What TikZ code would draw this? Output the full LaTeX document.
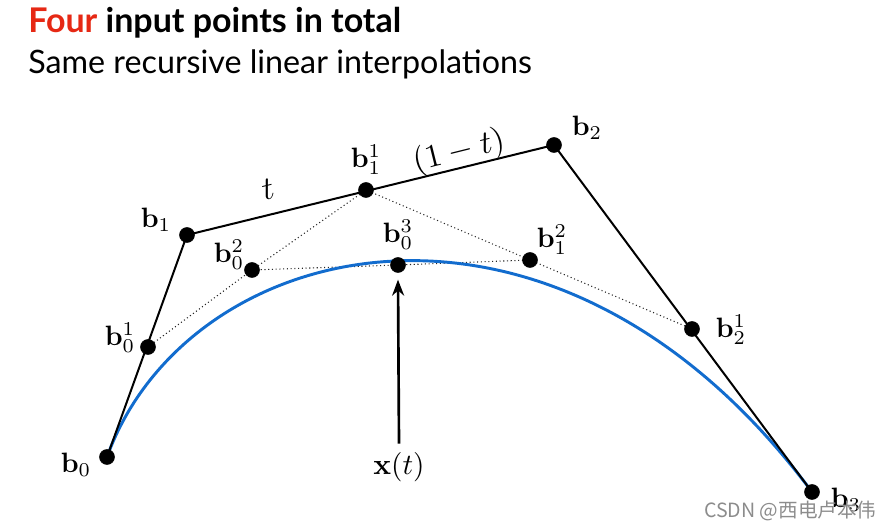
\documentclass[tikz,border=0pt]{standalone}
\usepackage[no-math]{fontspec}
\usetikzlibrary{arrows.meta}
\newfontfamily\titlefont{Lato}
\newfontfamily\cjk{Noto Sans CJK SC}
\definecolor{curveblue}{RGB}{18,108,206}
\definecolor{titlered}{RGB}{230,40,20}
\tikzset{
  dot/.style={fill=black},
  hull/.style={line width=1.5pt},
  interp/.style={dotted, line width=0.8pt, black!85},
  lbl/.style={scale=2.1, inner sep=0pt},
  seg/.style={scale=2.45, inner sep=0pt, rotate=14}
}
\begin{document}
\begin{tikzpicture}[x=0.75pt,y=-0.75pt]
    \useasboundingbox (0,0) rectangle (889,530);
    \node[anchor=base west, inner sep=0pt, font=\titlefont\fontsize{25.5}{28}\selectfont\bfseries] (title) at (28,33) {\textcolor{titlered}{Four} input points in total};
    \node[anchor=base west, inner sep=0pt, font=\titlefont\fontsize{24.2}{28}\selectfont] (subtitle) at (28,74) {Same recursive linear interpolations};
    \coordinate (b0) at (107,457);
    \coordinate (b1) at (187,235);
    \coordinate (b2) at (554,145);
    \coordinate (b3) at (812,492);
    \coordinate (b01) at (148,347);
    \coordinate (b11) at (366,190);
    \coordinate (b21) at (692,329);
    \coordinate (b02) at (252,270);
    \coordinate (b12) at (530,260);
    \coordinate (b03) at (398,265);
    \draw[interp] (b01) -- (b02) -- (b03) -- (b12) -- (b21);
    \draw[interp] (b02) -- (b11) -- (b12);
    \draw[curveblue, line width=2.2pt] (b0) .. controls (b1) and (b2) .. (b3);
    \draw[hull] (b0) -- (b1) -- (b2) -- (b3);
    \draw[dot] (b0) circle[radius=7.5];
    \draw[dot] (b1) circle[radius=7.5];
    \draw[dot] (b2) circle[radius=7.5];
    \draw[dot] (b3) circle[radius=7.5];
    \draw[dot] (b01) circle[radius=7.5];
    \draw[dot] (b11) circle[radius=7.5];
    \draw[dot] (b21) circle[radius=7.5];
    \draw[dot] (b02) circle[radius=7.5];
    \draw[dot] (b12) circle[radius=7.5];
    \draw[dot] (b03) circle[radius=7.5];
    \node[lbl] (lb0) at (76,465) {$\mathbf{b}_0$};
    \node[lbl] (lb1) at (156,220) {$\mathbf{b}_1$};
    \node[lbl] (lb2) at (587,128) {$\mathbf{b}_2$};
    \node[lbl] (lb3) at (846,500) {$\mathbf{b}_3$};
    \node[lbl] (lb01) at (120,338) {$\mathbf{b}_0^1$};
    \node[lbl] (lb11) at (366,160) {$\mathbf{b}_1^1$};
    \node[lbl] (lb21) at (731,330) {$\mathbf{b}_2^1$};
    \node[lbl] (lb02) at (229,255) {$\mathbf{b}_0^2$};
    \node[lbl] (lb12) at (552,240) {$\mathbf{b}_1^2$};
    \node[lbl] (lb03) at (398,235) {$\mathbf{b}_0^3$};
    \node[seg] (tl) at (268,189) {$t$};
    \node[seg] (omt) at (459,152) {$(1-t)$};
    \node[lbl, scale=1.05] (xt) at (399,467) {$\mathbf{x}(t)$};
    \draw[line width=2pt, -{Stealth[length=12pt,width=9pt]}] (xt.north) ++(0,-8) -- ([yshift=-11]b03);
    \node[anchor=base west, inner sep=0pt, text=black!45, font=\cjk\fontsize{14.7}{16}\selectfont] (mark) at (704,518) {CSDN @西电卢本伟};
\end{tikzpicture}
\end{document}
